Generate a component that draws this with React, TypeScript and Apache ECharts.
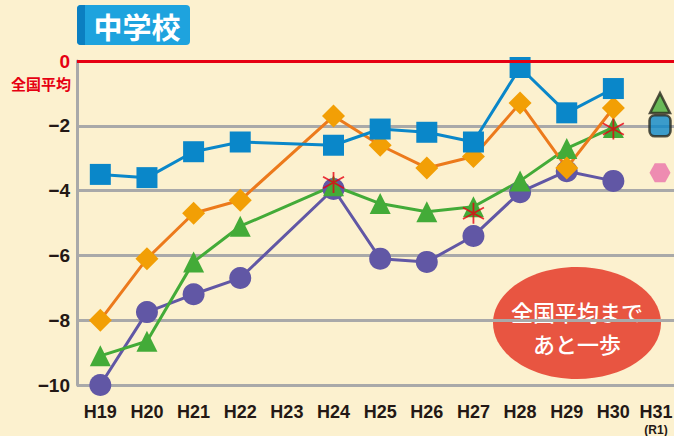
import React, { useEffect, useRef } from "react";
import * as echarts from "echarts";

const categories = ["H19", "H20", "H21", "H22", "H23", "H24", "H25", "H26", "H27", "H28", "H29", "H30", "H31"];
const blueSquares = [-3.5, -3.6, -2.8, -2.5, null, -2.6, -2.1, -2.2, -2.5, -0.2, -1.6, -0.85, null];
const orangeDiamonds = [-8.0, -6.1, -4.7, -4.3, null, -1.7, -2.6, -3.3, -2.95, -1.3, -3.3, -1.45, null];
const greenTriangles = [-9.1, -8.65, -6.2, -5.1, null, -3.85, -4.4, -4.65, -4.5, -3.7, -2.7, -2.05, null];
const purpleCircles = [-10.0, -7.75, -7.2, -6.7, null, -3.95, -6.1, -6.2, -5.4, -4.05, -3.4, -3.7, null];
const asteriskMarks: [string, number][] = [["H24", -3.75], ["H27", -4.7], ["H30", -2.1]];
const h31Triangle: [string, number][] = [["H31", -1.3]];
const h31Square: [string, number][] = [["H31", -2.0]];
const h31Hexagon: [string, number][] = [["H31", -3.45]];
const yMin = -10;
const yMax = 0;
const yStep = 2;

const BLUE = "#0a87c9";
const ORANGE_LINE = "#ec7a1c";
const ORANGE_MARK = "#f29f05";
const GREEN = "#43ab38";
const PURPLE = "#6157a5";
const RED = "#e60012";
const GRID_GRAY = "#a9a9a9";
const FONT = "'Liberation Sans Narrow', 'Liberation Sans', Arial, sans-serif";
const CJK = "'Noto Sans CJK JP', 'Noto Sans', sans-serif";

const toPoints = (vals: (number | null)[]) =>
  vals.map((v, i) => (v === null ? null : [i, v])).filter((p) => p !== null);
const byName = (pts: [string, number][]) => pts.map(([c, v]) => [categories.indexOf(c), v]);

export default function App() {
  const ref = useRef<HTMLDivElement>(null);
  useEffect(() => {
    document.body.style.margin = "0";
    const chart = echarts.init(ref.current!, null, { renderer: "svg" });
    const lineSeries = (name: string, data: (number | null)[], color: string, markColor: string, symbol: string, size: number, extra: any = {}) => ({
      name,
      type: "line",
      data: toPoints(data),
      symbol,
      symbolSize: size,
      lineStyle: { color, width: 3 },
      itemStyle: { color: markColor },
      ...extra,
    });
    chart.setOption({
      animation: false,
      backgroundColor: "#fcf1cf",
      grid: { left: 77, top: 61, right: 0, height: 324, containLabel: false, outerBoundsMode: "none" },
      xAxis: {
        type: "value",
        min: -0.5,
        max: 12.3,
        interval: 0.1,
        axisLine: { show: false },
        axisTick: { show: false },
        splitLine: { show: false },
        axisLabel: {
          margin: 17,
          showMaxLabel: false,
          showMinLabel: false,
          formatter: (v: number) => {
            if (Math.abs(v - Math.round(v)) > 1e-4) return "";
            const c = categories[Math.round(v)];
            if (!c) return "";
            return c === "H31" ? "{c|H31}\n{b|(R1)}" : "{a|" + c + "}";
          },
          rich: {
            a: { fontFamily: FONT, fontWeight: "bold", fontSize: 18, color: "#231815", lineHeight: 20 },
            c: { fontFamily: FONT, fontWeight: "bold", fontSize: 18, color: "#231815", lineHeight: 20, padding: [0, 8, 0, 0] },
            b: { fontFamily: FONT, fontWeight: "bold", fontSize: 12, color: "#231815", lineHeight: 16, padding: [0, 8, 0, 0] },
          },
        },
      },
      yAxis: {
        type: "value",
        min: yMin,
        max: yMax,
        interval: yStep,
        axisLine: { show: true, onZero: false, lineStyle: { color: GRID_GRAY, width: 3 } },
        axisTick: { show: false },
        axisLabel: {
          margin: 7,
          formatter: (v: number) => (v === 0 ? "{r|0}" : "{b|−" + -v + "}"),
          rich: {
            r: { color: RED, fontFamily: FONT, fontWeight: "bold", fontSize: 19 },
            b: { color: "#231815", fontFamily: FONT, fontWeight: "bold", fontSize: 19 },
          },
        },
        splitLine: { show: true, lineStyle: { color: GRID_GRAY, width: 3 } },
      },
      series: [
        lineSeries("purple", purpleCircles, PURPLE, PURPLE, "circle", 22, {
          markLine: {
            silent: true,
            symbol: "none",
            label: { show: false },
            lineStyle: { color: RED, width: 3, type: "solid" },
            data: [{ yAxis: 0 }],
          },
        }),
        lineSeries("green", greenTriangles, GREEN, GREEN, "triangle", 21),
        lineSeries("orange", orangeDiamonds, ORANGE_LINE, ORANGE_MARK, "diamond", 23),
        lineSeries("blue", blueSquares, BLUE, BLUE, "rect", 21),
        {
          name: "asterisk",
          type: "scatter",
          data: byName(asteriskMarks),
          symbol: "path://M10,0L10,20M1.5,4.5L18.5,15.5M1.5,15.5L18.5,4.5",
          symbolSize: 21,
          itemStyle: { color: "none", borderColor: RED, borderWidth: 1.8 },
          z: 5,
        },
        {
          name: "h31tri",
          type: "scatter",
          data: byName(h31Triangle),
          symbol: "triangle",
          symbolSize: 20,
          itemStyle: { color: GREEN, borderColor: "#2b2a1f", borderWidth: 2.5 },
        },
        {
          name: "h31sq",
          type: "scatter",
          data: byName(h31Square),
          symbol: "roundRect",
          symbolSize: 21,
          itemStyle: { color: BLUE, borderColor: "#2b2a1f", borderWidth: 2.5 },
        },
        {
          name: "h31hex",
          type: "scatter",
          data: byName(h31Hexagon),
          symbol: "path://M0,8.66L5,0L15,0L20,8.66L15,17.32L5,17.32Z",
          symbolSize: [21, 19],
          itemStyle: { color: "#ea73a9" },
        },
      ],
      graphic: [
        { type: "rect", shape: { x: 77, y: 5, width: 113, height: 40, r: 4 }, style: { fill: "#1ea3de" } },
        { type: "rect", shape: { x: 77, y: 5, width: 8, height: 40, r: [4, 0, 0, 4] }, style: { fill: "#0b7fc1" } },
        {
          type: "text",
          x: 137,
          y: 26,
          style: { text: "中学校", fill: "#ffffff", font: "bold 29px " + CJK, align: "center", verticalAlign: "middle" },
        },
        {
          type: "text",
          x: 71,
          y: 83,
          style: { text: "全国平均", fill: RED, font: "bold 15px " + CJK, align: "right", verticalAlign: "middle" },
        },
        { type: "ellipse", shape: { cx: 577, cy: 323, rx: 84, ry: 56 }, style: { fill: "#e85541" } },
        {
          type: "text",
          x: 577,
          y: 311,
          style: { text: "全国平均まで", fill: "#ffffff", font: "500 22px " + CJK, align: "center", verticalAlign: "middle" },
        },
        {
          type: "text",
          x: 577,
          y: 343,
          style: { text: "あと一歩", fill: "#ffffff", font: "500 22px " + CJK, align: "center", verticalAlign: "middle" },
        },
      ],
    });
    return () => chart.dispose();
  }, []);
  return <div ref={ref} style={{ width: 674, height: 436, position: "absolute", left: 0, top: 0 }} />;
}
